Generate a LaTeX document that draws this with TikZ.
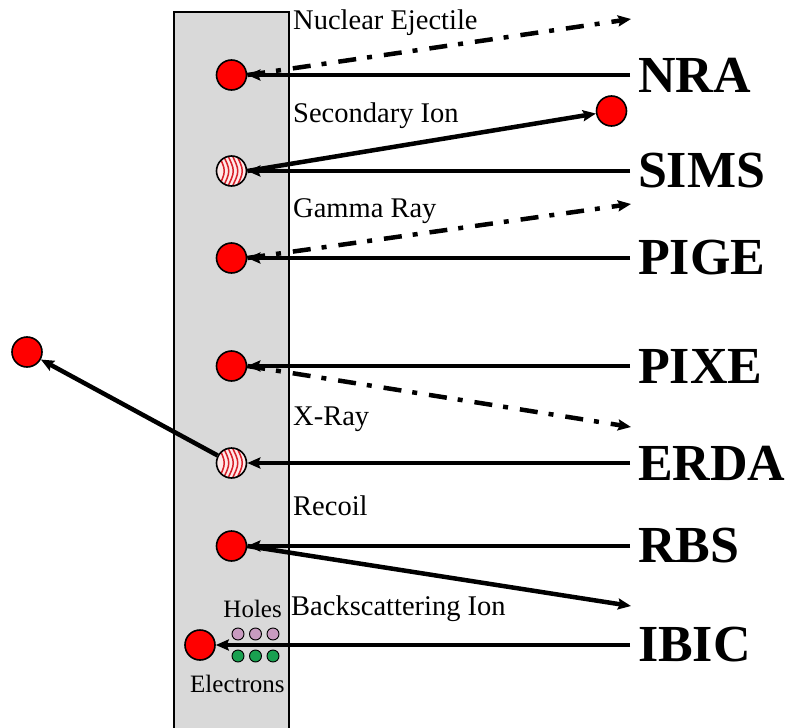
\documentclass[tikz,border=0pt]{standalone}
\usepackage{fontspec}
\setmainfont{Liberation Serif}
\usetikzlibrary{arrows.meta,calc}
\definecolor{slab}{RGB}{217,217,217}
\definecolor{ball}{RGB}{255,0,0}
\definecolor{stripebg}{RGB}{255,232,232}
\definecolor{stripec}{RGB}{215,30,40}
\definecolor{holec}{RGB}{200,155,192}
\definecolor{elecc}{RGB}{25,160,80}
\tikzset{
  ion/.style={circle, draw=black, line width=1.6pt, fill=ball, minimum size=30pt, inner sep=0pt},
  hatchion/.style={circle, draw=black, line width=1.6pt, fill=stripebg, minimum size=30pt, inner sep=0pt,
    path picture={\foreach \d in {-14,-9.5,...,15} \draw[stripec, line width=1.5pt]
      ($(path picture bounding box.center)+(\d,-18)$) .. controls ($(path picture bounding box.center)+(\d+9,0)$) .. ($(path picture bounding box.center)+(\d,18)$);}},
  biglab/.style={font=\fontsize{52}{52}\selectfont\bfseries, inner sep=0pt, outer sep=8pt, anchor=west},
  smalllab/.style={font=\fontsize{28.5}{30}\selectfont, inner sep=0pt},
  tinylab/.style={font=\fontsize{25}{26}\selectfont, inner sep=0pt},
  beam/.style={line width=4.5pt, -{Stealth[length=13pt,width=11pt,inset=2pt]}},
  ray/.style={line width=4.5pt, dash pattern=on 18pt off 11pt on 5pt off 12pt, -{Stealth[length=13pt,width=11pt,inset=2pt]}},
  dot/.style={circle, draw=black, line width=0.9pt, minimum size=12pt, inner sep=0pt},
}
\begin{document}
\begin{tikzpicture}[x=1pt,y=-1pt]
\useasboundingbox (0,0) rectangle (785,728);
% sample slab
\fill[slab] (174,12) rectangle (289,732);
\draw[line width=2pt] (174,732) -- (174,12) -- (289,12) -- (289,732);

% ions in sample
\node[ion] (cnra) at (231.5,75) {};
\node[hatchion] (csims) at (231.5,171) {};
\node[ion] (cpige) at (231.5,258) {};
\node[ion] (cpixe) at (231.5,366) {};
\node[hatchion] (cerda) at (231.5,463) {};
\node[ion] (crbs) at (231.5,546) {};
\node[ion] (cibic) at (200,645) {};
% ejected particles
\node[ion] (csec) at (611.5,111) {};
\node[ion] (cfar) at (27,352) {};

% holes and electrons
\foreach \i/\x in {1/238,2/255.5,3/273} {
  \node[dot, fill=holec] (h\i) at (\x,634) {};
  \node[dot, fill=elecc] (e\i) at (\x,656) {};
}

% technique labels
\node[biglab] (nra) at (630,75) {NRA};
\node[biglab] (sims) at (630,171) {SIMS};
\node[biglab] (pige) at (630,258) {PIGE};
\node[biglab] (pixe) at (630,366) {PIXE};
\node[biglab] (erda) at (630,463) {ERDA};
\node[biglab] (rbs) at (630,546) {RBS};
\node[biglab] (ibic) at (630,645) {IBIC};

% free ends
\coordinate (nraout) at (631,19);
\coordinate (pigeout) at (631,204);
\coordinate (pixeout) at (631,427);
\coordinate (rbsout) at (631,606);

% incident beams
\draw[beam] (nra.west) -- (cnra.east);
\draw[beam] (sims.west) -- (csims.east);
\draw[beam] (pige.west) -- (cpige.east);
\draw[beam] (pixe.west) -- (cpixe.east);
\draw[beam] (erda.west) -- (cerda.east);
\draw[beam] (rbs.west) -- (crbs.east);
\draw[beam] (ibic.west) -- (cibic.east);

% emitted radiation / particles
\draw[ray] (cnra.east) -- (nraout);
\draw[ray] (cpige.east) -- (pigeout);
\draw[ray] (cpixe.east) -- (pixeout);
\draw[beam] (csims.east) -- (csec);
\draw[beam] (cerda) -- (cfar);
\draw[beam] (crbs.east) -- (rbsout);

% small labels
\node[smalllab, anchor=base west] (tnuc) at (293,30) {Nuclear Ejectile};
\node[smalllab, anchor=base west] (tsec) at (293,122) {Secondary Ion};
\node[smalllab, anchor=base west] (tgam) at (293,217) {Gamma Ray};
\node[smalllab, anchor=base west] (txr) at (293,425) {X-Ray};
\node[smalllab, anchor=base west] (trec) at (293,515) {Recoil};
\node[smalllab, anchor=base west] (tbs) at (291,615) {Backscattering Ion};
\node[tinylab, anchor=base east] (thol) at (282,617) {Holes};
\node[tinylab, anchor=base west] (tele) at (190,692) {Electrons};
\end{tikzpicture}
\end{document}
